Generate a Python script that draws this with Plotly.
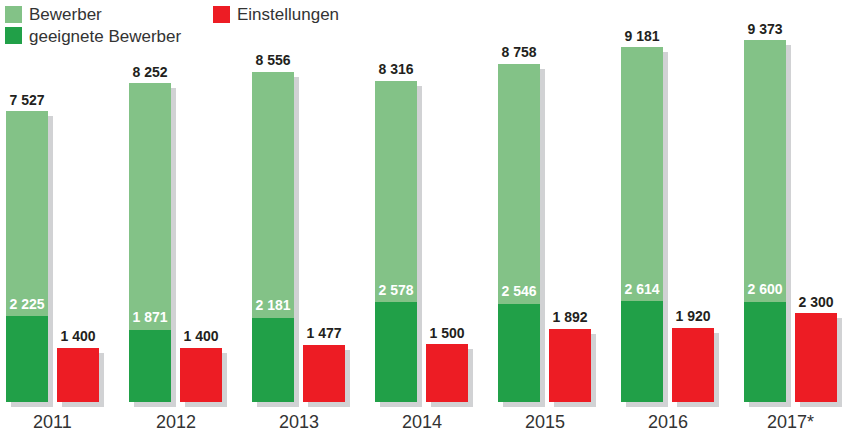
import plotly.graph_objects as go

years = ["2011", "2012", "2013", "2014", "2015", "2016", "2017*"]
bewerber = [7527, 8252, 8556, 8316, 8758, 9181, 9373]
geeignete = [2225, 1871, 2181, 2578, 2546, 2614, 2600]
einstellungen = [1400, 1400, 1477, 1500, 1892, 1920, 2300]

def fmt(v):
    return f"{v:,}".replace(",", " ")

W, H = 843, 432
base_px = 402           # baseline pixel from top
k = 362 / 9373          # pixels per unit
y_lo = -(H - base_px) / k
y_hi = base_px / k

step = 123
bw = 42
g_c = [27 + step * i for i in range(len(years))]
r_c = [78 + step * i for i in range(len(years))]
grp_c = [(a + b) / 2 for a, b in zip(g_c, r_c)]
sh = 5  # shadow offset px

LG = "#83c287"
DG = "#21a048"
RED = "#ed1c24"
SHADOW = "#d1d2d4"
TXT = "#231f20"
FONT = "Liberation Sans, Arial, sans-serif"
BFONT = "Liberation Sans, Arial, sans-serif"

fig = go.Figure()
# shadows
fig.add_trace(go.Bar(x=[c + sh for c in g_c], y=bewerber, base=[-sh / k] * len(years),
                     width=bw, marker=dict(color=SHADOW, line=dict(width=0)), hoverinfo="skip"))
fig.add_trace(go.Bar(x=[c + sh for c in r_c], y=einstellungen, base=[-sh / k] * len(years),
                     width=bw, marker=dict(color=SHADOW, line=dict(width=0)), hoverinfo="skip"))
# bars
fig.add_trace(go.Bar(x=g_c, y=bewerber, base=0, width=bw, name="Bewerber",
                     marker=dict(color=LG, line=dict(width=0))))
fig.add_trace(go.Bar(x=g_c, y=geeignete, base=0, width=bw, name="geeignete Bewerber",
                     marker=dict(color=DG, line=dict(width=0))))
fig.add_trace(go.Bar(x=r_c, y=einstellungen, base=0, width=bw, name="Einstellungen",
                     marker=dict(color=RED, line=dict(width=0))))

# labels
fig.add_trace(go.Scatter(x=g_c, y=[v + 10 / k for v in bewerber], mode="text",
                         text=[fmt(v) for v in bewerber], textposition="middle center",
                         textfont=dict(family=BFONT, size=14, color=TXT, weight="bold"),
                         cliponaxis=False, hoverinfo="skip"))
fig.add_trace(go.Scatter(x=g_c, y=[v + 11 / k for v in geeignete], mode="text",
                         text=[fmt(v) for v in geeignete], textposition="middle center",
                         textfont=dict(family=BFONT, size=14, color="white", weight="bold"),
                         cliponaxis=False, hoverinfo="skip"))
fig.add_trace(go.Scatter(x=r_c, y=[v + 10 / k for v in einstellungen], mode="text",
                         text=[fmt(v) for v in einstellungen], textposition="middle center",
                         textfont=dict(family=BFONT, size=14, color=TXT, weight="bold"),
                         cliponaxis=False, hoverinfo="skip"))

annotations = []
for c, yr in zip(grp_c, years):
    annotations.append(dict(x=c, y=-(422 - base_px) / k, xref="x", yref="y", text=yr,
                            showarrow=False, xanchor="center", yanchor="middle",
                            font=dict(family=FONT, size=18, color="#333333")))

# legend (pixel-based, paper coords)
shapes = []
legend_items = [("Bewerber", LG, 5, 6), ("geeignete Bewerber", DG, 5, 27), ("Einstellungen", RED, 213, 6)]
for label, col, lx, ly in legend_items:
    shapes.append(dict(type="rect", xref="paper", yref="paper",
                       x0=lx / W, x1=(lx + 17) / W, y0=1 - (ly + 17) / H, y1=1 - ly / H,
                       fillcolor=col, line=dict(width=0)))
    annotations.append(dict(x=(lx + 22) / W, y=1 - (ly + 9) / H, xref="paper", yref="paper",
                            text=label, showarrow=False, xanchor="left", yanchor="middle",
                            font=dict(family=FONT, size=17, color="#333333")))

fig.update_layout(
    width=W, height=H, margin=dict(l=0, r=0, t=0, b=0),
    paper_bgcolor="white", plot_bgcolor="white",
    barmode="overlay", bargap=0, showlegend=False,
    xaxis=dict(range=[0, W], visible=False, fixedrange=True),
    yaxis=dict(range=[y_lo, y_hi], visible=False, fixedrange=True),
    shapes=shapes, annotations=annotations,
)

fig.write_html("out.html", config={"displayModeBar": False},
               post_script="document.body.style.margin='0';document.body.style.overflow='hidden';")
